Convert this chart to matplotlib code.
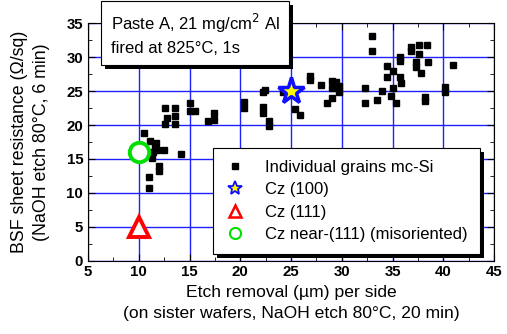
import matplotlib
matplotlib.use("Agg")
import matplotlib.pyplot as plt
from matplotlib.lines import Line2D
from matplotlib.patches import Rectangle
from matplotlib.ticker import MultipleLocator

plt.rcParams["font.family"] = ["Liberation Sans", "DejaVu Sans"]

# individual grains mc-Si: etch removal (um) vs BSF sheet resistance (ohm/sq)
grain_x = [10.5, 11.1, 11.7, 11.6, 11.4, 11.3, 11.8, 12.5, 14.2, 12.0, 12.0, 11.0, 11.0,
           12.6, 13.6, 12.8, 12.6, 13.6, 13.6, 15.0, 15.0, 15.5, 16.8, 17.4, 17.4,
           20.4, 20.4, 22.2, 22.4, 22.2, 22.2, 22.8, 22.8, 24.2, 25.4, 25.9, 26.9, 26.9,
           28.0, 29.0, 29.0, 29.4, 29.7, 29.7, 29.0, 28.5, 32.3, 32.3, 33.0, 33.0, 33.5,
           34.0, 34.5, 34.5, 35.0, 35.0, 34.8, 35.3, 35.7, 35.7, 35.7, 35.8, 36.8, 36.8,
           37.6, 38.4, 37.6, 37.3, 37.3, 38.5, 37.8, 38.2, 38.2, 40.2, 40.2, 41.0]
grain_y = [18.8, 17.7, 17.3, 16.8, 16.1, 15.1, 16.3, 16.3, 15.7, 13.9, 13.2, 12.4, 10.8,
           22.5, 22.5, 21.0, 20.2, 21.3, 20.1, 23.3, 22.0, 22.0, 20.6, 21.7, 20.8,
           23.4, 22.5, 24.9, 25.2, 22.6, 21.8, 20.6, 19.9, 24.9, 22.4, 21.4, 27.2, 26.6,
           25.9, 26.5, 25.5, 26.3, 25.7, 24.8, 24.0, 23.3, 25.4, 23.2, 33.1, 30.9, 23.7,
           25.0, 28.7, 27.0, 27.9, 25.4, 24.2, 23.3, 30.0, 29.4, 27.0, 26.2, 31.5, 30.9,
           31.8, 31.8, 30.4, 29.2, 28.6, 29.3, 27.7, 24.1, 23.5, 25.6, 24.8, 28.8]

cz100 = (25, 25)
cz111 = (10, 5)
cz_near111 = (10, 16)

labels = ["Individual grains mc-Si", "Cz (100)", "Cz (111)",
          "Cz near-(111) (misoriented)"]

fig = plt.figure(figsize=(5.07, 3.34), dpi=100)
ax = fig.add_axes([0.1736, 0.2186, 0.8009, 0.7125])

ax.grid(True, which="major", color="#2020ff", linewidth=1.0)
ax.set_axisbelow(True)

ax.plot(grain_x, grain_y, "s", color="black", markersize=4.4, linestyle="none")
ax.plot(*cz100, "*", markersize=20, markerfacecolor="#ffff00",
        markeredgecolor="#1010ff", markeredgewidth=2.5)
ax.plot(*cz111, "^", markersize=14, markerfacecolor="white",
        markeredgecolor="#ff0000", markeredgewidth=2.8)
ax.plot(*cz_near111, "o", markersize=14, markerfacecolor="white",
        markeredgecolor="#00e000", markeredgewidth=2.8)

ax.set_xlim(5, 45)
ax.set_ylim(0, 35)
ax.xaxis.set_major_locator(MultipleLocator(5))
ax.xaxis.set_minor_locator(MultipleLocator(2.5))
ax.yaxis.set_major_locator(MultipleLocator(5))
ax.yaxis.set_minor_locator(MultipleLocator(2.5))
ax.tick_params(which="both", direction="in", top=True, right=True)
ax.tick_params(which="major", length=5, labelsize=10.8)
ax.tick_params(which="minor", length=3)
for lab in ax.get_xticklabels() + ax.get_yticklabels():
    lab.set_fontweight("bold")
ax.tick_params(axis="x", pad=3)

ax.set_xlabel("Etch removal (\u00b5m) per side\n(on sister wafers, NaOH etch 80\u00b0C, 20 min)",
              fontsize=12.6, labelpad=4, linespacing=1.5)
ax.set_ylabel("BSF sheet resistance (\u03a9/sq)\n(NaOH etch 80\u00b0C, 6 min)",
              fontsize=12.8, labelpad=12, linespacing=1.35)

handles = [
    Line2D([], [], marker="s", color="black", linestyle="none", markersize=5),
    Line2D([], [], marker="*", linestyle="none", markersize=10,
           markerfacecolor="#ffff00", markeredgecolor="#1010ff", markeredgewidth=1.3),
    Line2D([], [], marker="^", linestyle="none", markersize=8,
           markerfacecolor="white", markeredgecolor="#ff0000", markeredgewidth=1.8),
    Line2D([], [], marker="o", linestyle="none", markersize=8,
           markerfacecolor="white", markeredgecolor="#00e000", markeredgewidth=1.5),
]
leg = ax.legend(handles, labels, loc="upper left", bbox_to_anchor=(0.308, 0.475),
                borderaxespad=0, fontsize=12, frameon=True, fancybox=False,
                edgecolor="black", framealpha=1, handlelength=1.2,
                handletextpad=1.2, labelspacing=0.44, borderpad=0.72)
leg.get_frame().set_linewidth(0.8)
leg.set_zorder(5)

# annotation box at top left
txt = fig.text(0.218, 0.898, "Paste A, 21 mg/cm$^2$ Al\nfired at 825\u00b0C, 1s",
               fontsize=12, va="center", ha="left", linespacing=1.45, zorder=6,
               bbox=dict(boxstyle="square,pad=0.55", facecolor="white",
                         edgecolor="black", linewidth=0.8))

# black drop shadows behind the two boxes
fig.canvas.draw()
inv = fig.transFigure.inverted()
bb = leg.get_frame().get_window_extent()
x0, y0 = inv.transform((bb.x0 + 4, bb.y0 - 4))
x1, y1 = inv.transform((bb.x1 + 4, bb.y1 - 4))
ax.add_artist(Rectangle((x0, y0), x1 - x0, y1 - y0, transform=fig.transFigure,
                        facecolor="black", edgecolor="none", zorder=4.9, clip_on=False))
bb = txt.get_bbox_patch().get_window_extent()
x0, y0 = inv.transform((bb.x0 + 4, bb.y0 - 4))
x1, y1 = inv.transform((bb.x1 + 4, bb.y1 - 4))
fig.patches.append(Rectangle((x0, y0), x1 - x0, y1 - y0, transform=fig.transFigure,
                             facecolor="black", edgecolor="none", zorder=4))

fig.savefig("out.png", dpi=100)
